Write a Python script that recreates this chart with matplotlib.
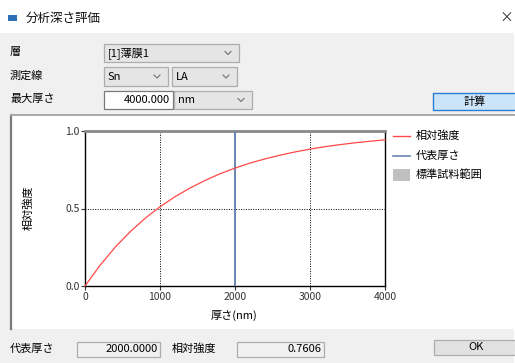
import matplotlib
matplotlib.use("Agg")
import matplotlib.pyplot as plt
from matplotlib.patches import Rectangle

plt.rcParams['font.family'] = ['Noto Sans CJK JP', 'DejaVu Sans']

# ---- data -------------------------------------------------------------
thickness = [0, 200, 400, 600, 800, 1000, 1200, 1400, 1600, 1800, 2000,
             2200, 2400, 2600, 2800, 3000, 3200, 3400, 3600, 3800, 4000]
intensity = [0.000, 0.133, 0.249, 0.349, 0.436, 0.511, 0.576, 0.632, 0.681,
             0.724, 0.7606, 0.793, 0.820, 0.844, 0.865, 0.883, 0.899, 0.912,
             0.924, 0.934, 0.943]
rep_thickness = 2000.0
rep_intensity = intensity[thickness.index(int(rep_thickness))]
max_thickness = 4000.0
x_ticks = [0, 1000, 2000, 3000, 4000]
y_ticks = [0.0, 0.5, 1.0]
legend_labels = ['相対強度', '代表厚さ', '標準試料範囲']

W, H = 515, 363
fig = plt.figure(figsize=(W / 100, H / 100), dpi=100)
fig.patch.set_facecolor('white')

# ---- dialog background (pixel coordinates) ----------------------------
bg = fig.add_axes([0, 0, 1, 1], zorder=0)
bg.set_xlim(0, W)
bg.set_ylim(H, 0)
bg.axis('off')

FS = 8
TXT = '#000000'


def rect(x0, y0, x1, y1, fc, ec='none', lw=0.8, z=1):
    bg.add_patch(Rectangle((x0, y0), x1 - x0, y1 - y0, facecolor=fc,
                           edgecolor=ec, linewidth=lw, zorder=z))


def chevron(cx, cy):
    bg.plot([cx - 3, cx, cx + 3], [cy - 1.5, cy + 1.5, cy - 1.5],
            color='#707070', lw=0.8, zorder=3)


def combo(x0, y0, x1, y1, label):
    rect(x0, y0, x1, y1, '#e5e5e5', '#adadad', 0.9, 2)
    bg.text(x0 + 4, (y0 + y1) / 2, label, fontsize=FS, va='center',
            ha='left', color=TXT, zorder=3)
    chevron(x1 - 11, (y0 + y1) / 2)


# window body
rect(0, 33, W - 1, H, '#f0f0f0', z=0)

# title bar
rect(8, 15, 17, 21, '#2f6fb5', z=2)
bg.text(26, 18, '分析深さ評価', fontsize=9, va='center', ha='left',
        color='#111111')
bg.text(513, 18, '×', fontsize=10, va='center', ha='right', color='#333333')

# input rows
bg.text(10, 52, '層', fontsize=FS, va='center', ha='left', color=TXT)
bg.text(10, 76, '測定線', fontsize=FS, va='center', ha='left', color=TXT)
bg.text(10, 99, '最大厚さ', fontsize=FS, va='center', ha='left', color=TXT)

combo(104, 44, 239, 62, '[1]薄膜1')
combo(104, 67, 168, 86, 'Sn')
combo(172, 67, 237, 86, 'LA')
rect(104, 91, 173, 109, 'white', '#7a7a7a', 0.9, 2)
bg.text(170, 100, f'{max_thickness:.3f}', fontsize=FS, va='center',
        ha='right', color=TXT, zorder=3)
combo(174, 91, 252, 109, 'nm')

# calculate button
rect(433, 93, 520, 110, '#cce4f7', '#2a7fd4', 1.0, 2)
bg.text(475, 101.5, '計算', fontsize=FS, va='center', ha='center',
        color=TXT, zorder=3)

# chart panel
rect(11, 115, W, 329, 'white', z=1)
bg.plot([11, 11], [115, 329], color='#7a7a7a', lw=1.6, zorder=2)
bg.plot([11, W], [115, 115], color='#a8a8a8', lw=1.4, zorder=2)

# bottom result row
bg.text(10, 349, '代表厚さ', fontsize=FS, va='center', ha='left', color=TXT)
rect(77, 342, 160, 357, '#f0f0f0', '#adadad', 0.9, 2)
bg.text(158, 349.5, f'{rep_thickness:.4f}', fontsize=FS, va='center',
        ha='right', color=TXT, zorder=3)
bg.text(172, 349, '相対強度', fontsize=FS, va='center', ha='left', color=TXT)
rect(237, 342, 324, 357, '#f0f0f0', '#adadad', 0.9, 2)
bg.text(322, 349.5, f'{rep_intensity:.4f}', fontsize=FS, va='center',
        ha='right', color=TXT, zorder=3)
rect(434, 340, 520, 355, '#e1e1e1', '#adadad', 0.9, 2)
bg.text(476, 347.5, 'OK', fontsize=FS, va='center', ha='center',
        color=TXT, zorder=3)

# ---- chart ------------------------------------------------------------
L, R, T, B = 85, 385, 131, 286
ax = fig.add_axes([L / W, (H - B) / H, (R - L) / W, (B - T) / H], zorder=2)
ax.set_facecolor('none')
ax.set_xlim(0, max_thickness)
ax.set_ylim(0, 1)
ax.set_xticks(x_ticks)
ax.set_yticks(y_ticks)
ax.set_yticklabels([f'{v:.1f}' for v in y_ticks])
ax.tick_params(direction='out', length=3, width=0.8, labelsize=7.5, pad=1,
               colors='#333333')
ax.grid(True, color='black', linestyle=(0, (1, 1.5)), linewidth=0.7)
ax.set_axisbelow(True)
for side in ('left', 'bottom', 'right'):
    ax.spines[side].set_color('black')
    ax.spines[side].set_linewidth(1.0)
ax.spines['top'].set_color('#8a8a8a')
ax.spines['top'].set_linewidth(2.0)

ax.axvline(rep_thickness, color='#6a86b4', lw=1.4, zorder=3)
ax.plot(thickness, intensity, color='#ff4848', lw=0.9, zorder=4,
        clip_on=False)

bg.text(28, 208, '相対強度', fontsize=FS, va='center', ha='center',
        rotation=90, color=TXT, zorder=3)
bg.text(234, 315, '厚さ(nm)', fontsize=FS, va='center', ha='center',
        color=TXT, zorder=3)

# legend
bg.plot([393, 410], [136, 136], color='#ff4848', lw=1.0, zorder=3)
bg.plot([393, 410], [156, 156], color='#6a86b4', lw=1.2, zorder=3)
rect(393, 169, 410, 181, '#c0c0c0', z=3)
for y, lab in zip([136, 156, 175], legend_labels):
    bg.text(416, y, lab, fontsize=FS, va='center', ha='left', color=TXT,
            zorder=3)

fig.savefig('out.png', dpi=100)
